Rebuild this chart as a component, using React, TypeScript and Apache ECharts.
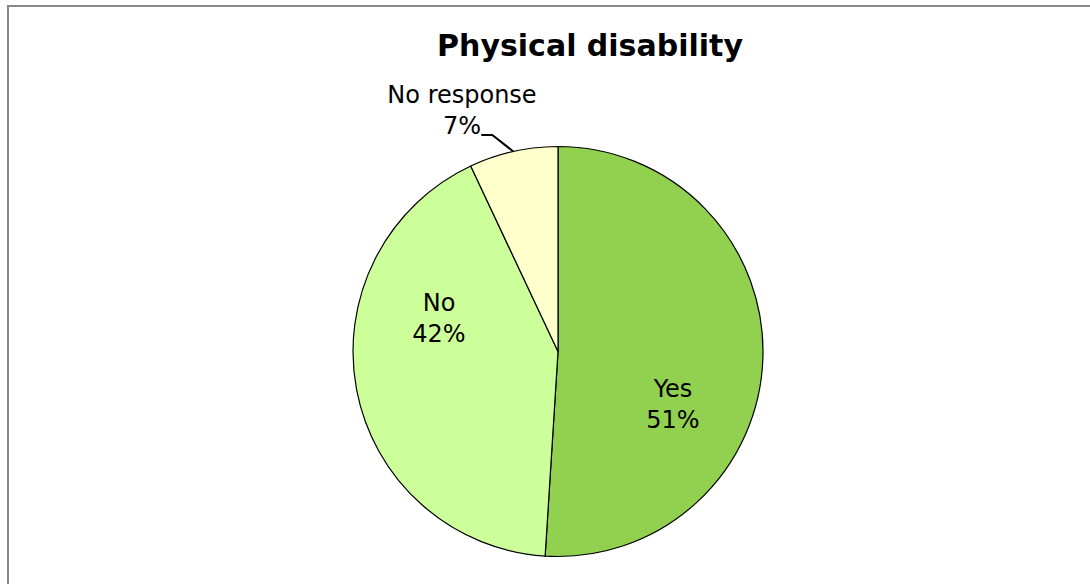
import React, { useEffect, useRef } from "react";
import * as echarts from "echarts";

const title = "Physical disability";
const categories = ["Yes", "No", "No response"];
const values = [51, 42, 7];
const colors = ["#92D050", "#CCFF99", "#FFFFCC"];

export default function App() {
  const ref = useRef<HTMLDivElement>(null);
  useEffect(() => {
    if (!ref.current) return;
    const chart = echarts.init(ref.current, null, { renderer: "svg" });
    const labelPos: Record<number, [number, number]> = {
      0: [673, 404],
      1: [439, 318],
      2: [462, 110],
    };
    chart.setOption({
      animation: false,
      backgroundColor: "#ffffff",
      title: {
        text: title,
        left: 585,
        top: 25,
        textAlign: "center",
        textStyle: {
          fontFamily: "DejaVu Sans",
          fontWeight: "bold",
          fontSize: 30,
          color: "#000000",
        },
      },
      graphic: [
        {
          type: "rect",
          shape: { x: 8, y: 6, width: 1200, height: 700 },
          style: { fill: "none", stroke: "#888888", lineWidth: 2 },
          silent: true,
        },
      ],
      series: [
        {
          type: "pie",
          center: [558, 351.5],
          radius: 205,
          startAngle: 90,
          clockwise: true,
          avoidLabelOverlap: false,
          itemStyle: { borderColor: "#000000", borderWidth: 1.2 },
          label: {
            show: true,
            formatter: "{b}\n{c}%",
            fontFamily: "DejaVu Sans",
            fontSize: 24,
            lineHeight: 31,
            color: "#000000",
            position: "inside",
          },
          labelLine: {
            show: true,
            length: 12,
            length2: 14,
            lineStyle: { color: "#000000", width: 2 },
          },
          labelLayout: (p: any) => {
            const pos = labelPos[p.dataIndex];
            const out: any = { x: pos[0], y: pos[1], align: "center", verticalAlign: "middle" };
            if (p.dataIndex === 2 && p.labelLinePoints && p.labelLinePoints.length) {
              const s = p.labelLinePoints[0];
              out.labelLinePoints = [
                [s[0], s[1]],
                [s[0] - 21, s[1] - 16.5],
                [s[0] - 32, s[1] - 16.5],
              ];
            }
            return out;
          },
          data: categories.map((c, i) => ({
            name: c,
            value: values[i],
            itemStyle: { color: colors[i] },
            label: i === 2 ? { position: "outside" } : { position: "inside" },
            labelLine: { show: i === 2 },
          })),
        },
      ],
    });
    return () => chart.dispose();
  }, []);
  return (
    <div
      ref={ref}
      style={{ position: "fixed", left: 0, top: 0, width: 1090, height: 584 }}
    />
  );
}
